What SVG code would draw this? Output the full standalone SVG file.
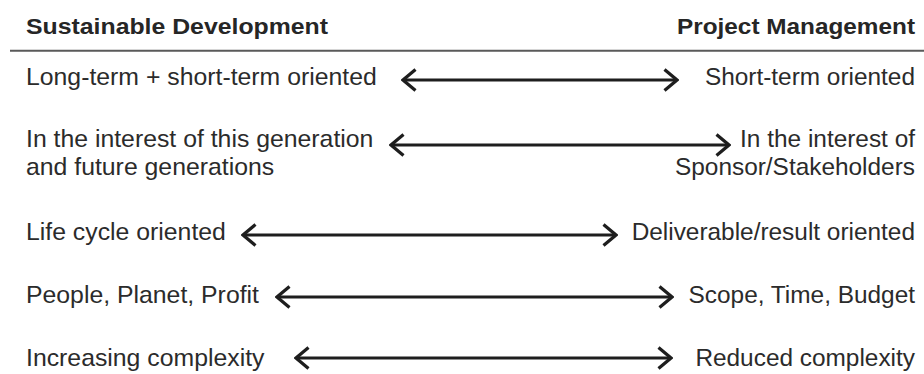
<svg xmlns="http://www.w3.org/2000/svg" width="924" height="374" viewBox="0 0 924 374">
  <style>
    .hd { font-family: "Liberation Sans", Arial, sans-serif; font-weight: bold; font-size: 22.5px; fill: #262626; }
    .t { font-family: "Liberation Sans", Arial, sans-serif; font-size: 24.4px; fill: #2b2b2b; }
    .l { font-size: 24.8px; }
    .r { text-anchor: end; }
    .arr { stroke: #1e1e1e; stroke-width: 2.8; fill: none; marker-start: url(#chev); marker-end: url(#chev); }
  </style>
  <defs>
    <marker id="chev" viewBox="-16 -13 18 26" markerWidth="18" markerHeight="26" refX="0" refY="0" orient="auto-start-reverse" markerUnits="userSpaceOnUse">
      <path d="M-12.5,-10.5 L0,0 L-12.5,10.5" fill="none" stroke="#1e1e1e" stroke-width="3.2"/>
    </marker>
  </defs>
  <rect width="924" height="374" fill="#ffffff"/>

  <g id="header">
    <text class="hd" x="26" y="33.5" textLength="302" lengthAdjust="spacingAndGlyphs">Sustainable Development</text>
    <text class="hd" x="677" y="33.5" textLength="238" lengthAdjust="spacingAndGlyphs">Project Management</text>
    <line x1="10" y1="50.7" x2="924" y2="50.7" stroke="#5a5a5a" stroke-width="2"/>
  </g>

  <g id="row1">
    <text class="t l" x="26" y="85">Long-term + short-term oriented</text>
    <text class="t r" x="915" y="85">Short-term oriented</text>
  </g>
  <g id="row2">
    <text class="t l" x="26" y="147">In the interest of this generation</text>
    <text class="t l" x="26" y="175">and future generations</text>
    <text class="t r" x="915" y="147">In the interest of</text>
    <text class="t r" x="915" y="175">Sponsor/Stakeholders</text>
  </g>
  <g id="row3">
    <text class="t l" x="26" y="240">Life cycle oriented</text>
    <text class="t r" x="915" y="240">Deliverable/result oriented</text>
  </g>
  <g id="row4">
    <text class="t l" x="26" y="303">People, Planet, Profit</text>
    <text class="t r" x="915" y="303">Scope, Time, Budget</text>
  </g>
  <g id="row5">
    <text class="t l" x="26" y="366">Increasing complexity</text>
    <text class="t r" x="915" y="366">Reduced complexity</text>
  </g>

  <g id="connectors">
    <line class="arr" x1="403" y1="80" x2="677" y2="80"/>
    <line class="arr" x1="391" y1="145" x2="729" y2="145"/>
    <line class="arr" x1="243" y1="235" x2="616" y2="235"/>
    <line class="arr" x1="277" y1="297" x2="672" y2="297"/>
    <line class="arr" x1="296" y1="358" x2="671" y2="358"/>
  </g>
</svg>
